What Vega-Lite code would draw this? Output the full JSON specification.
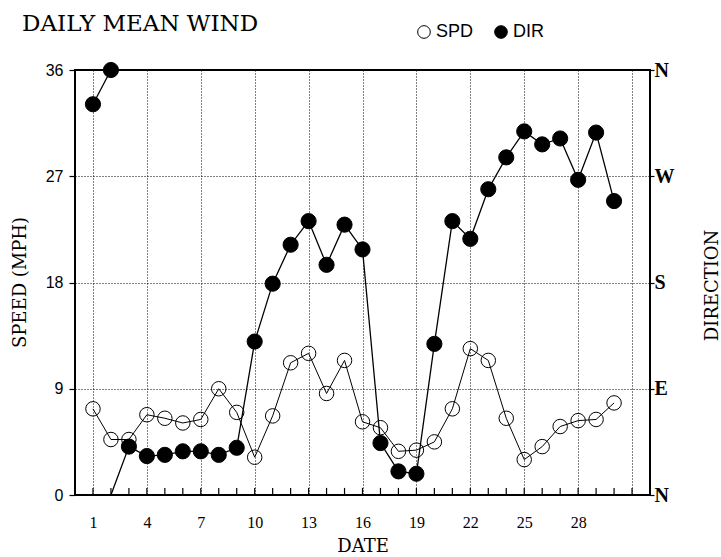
{
  "$schema": "https://vega.github.io/schema/vega-lite/v6.json",
  "width": 575,
  "height": 425,
  "autosize": "none",
  "padding": {"left": 75, "top": 70, "right": 71, "bottom": 62},
  "background": "white",
  "title": {
    "text": "DAILY MEAN WIND",
    "anchor": "start",
    "frame": "group",
    "dx": -53,
    "dy": 31,
    "offset": 0,
    "baseline": "alphabetic",
    "font": "DejaVu Serif",
    "fontSize": 23,
    "fontWeight": "normal",
    "color": "black"
  },
  "config": {
    "view": {"stroke": "black", "strokeWidth": 2},
    "axis": {"domain": false, "labelColor": "black", "titleColor": "black", "tickColor": "black", "gridColor": "black", "gridDash": [1, 2], "gridWidth": 1, "titleFontWeight": "normal"}
  },
  "data": {
    "values": [
      {"day": 1, "series": "SPD", "value": 7.3}, {"day": 2, "series": "SPD", "value": 4.7}, {"day": 3, "series": "SPD", "value": 4.7},
      {"day": 4, "series": "SPD", "value": 6.8}, {"day": 5, "series": "SPD", "value": 6.5}, {"day": 6, "series": "SPD", "value": 6.1},
      {"day": 7, "series": "SPD", "value": 6.4}, {"day": 8, "series": "SPD", "value": 9.0}, {"day": 9, "series": "SPD", "value": 7.0},
      {"day": 10, "series": "SPD", "value": 3.2}, {"day": 11, "series": "SPD", "value": 6.7}, {"day": 12, "series": "SPD", "value": 11.2},
      {"day": 13, "series": "SPD", "value": 12.0}, {"day": 14, "series": "SPD", "value": 8.6}, {"day": 15, "series": "SPD", "value": 11.4},
      {"day": 16, "series": "SPD", "value": 6.2}, {"day": 17, "series": "SPD", "value": 5.7}, {"day": 18, "series": "SPD", "value": 3.7},
      {"day": 19, "series": "SPD", "value": 3.8}, {"day": 20, "series": "SPD", "value": 4.5}, {"day": 21, "series": "SPD", "value": 7.3},
      {"day": 22, "series": "SPD", "value": 12.4}, {"day": 23, "series": "SPD", "value": 11.4}, {"day": 24, "series": "SPD", "value": 6.5},
      {"day": 25, "series": "SPD", "value": 3.0}, {"day": 26, "series": "SPD", "value": 4.1}, {"day": 27, "series": "SPD", "value": 5.8},
      {"day": 28, "series": "SPD", "value": 6.3}, {"day": 29, "series": "SPD", "value": 6.4}, {"day": 30, "series": "SPD", "value": 7.8},
      {"day": 1, "series": "DIR", "value": 331, "seg": 1}, {"day": 2, "series": "DIR", "value": 360, "seg": 1},
      {"day": 2, "series": "DIR", "value": 0, "seg": 2, "wrap": true},
      {"day": 3, "series": "DIR", "value": 41, "seg": 2}, {"day": 4, "series": "DIR", "value": 33, "seg": 2}, {"day": 5, "series": "DIR", "value": 34, "seg": 2},
      {"day": 6, "series": "DIR", "value": 37, "seg": 2}, {"day": 7, "series": "DIR", "value": 37, "seg": 2}, {"day": 8, "series": "DIR", "value": 34, "seg": 2},
      {"day": 9, "series": "DIR", "value": 40, "seg": 2}, {"day": 10, "series": "DIR", "value": 130, "seg": 2}, {"day": 11, "series": "DIR", "value": 179, "seg": 2},
      {"day": 12, "series": "DIR", "value": 212, "seg": 2}, {"day": 13, "series": "DIR", "value": 232, "seg": 2}, {"day": 14, "series": "DIR", "value": 195, "seg": 2},
      {"day": 15, "series": "DIR", "value": 229, "seg": 2}, {"day": 16, "series": "DIR", "value": 208, "seg": 2}, {"day": 17, "series": "DIR", "value": 44, "seg": 2},
      {"day": 18, "series": "DIR", "value": 20, "seg": 2}, {"day": 19, "series": "DIR", "value": 18, "seg": 2}, {"day": 20, "series": "DIR", "value": 128, "seg": 2},
      {"day": 21, "series": "DIR", "value": 232, "seg": 2}, {"day": 22, "series": "DIR", "value": 217, "seg": 2}, {"day": 23, "series": "DIR", "value": 259, "seg": 2},
      {"day": 24, "series": "DIR", "value": 286, "seg": 2}, {"day": 25, "series": "DIR", "value": 308, "seg": 2}, {"day": 26, "series": "DIR", "value": 297, "seg": 2},
      {"day": 27, "series": "DIR", "value": 302, "seg": 2}, {"day": 28, "series": "DIR", "value": 267, "seg": 2}, {"day": 29, "series": "DIR", "value": 307, "seg": 2},
      {"day": 30, "series": "DIR", "value": 249, "seg": 2}
    ]
  },
  "encoding": {
    "x": {
      "field": "day",
      "type": "quantitative",
      "scale": {"domain": [0, 32], "nice": false, "zero": false},
      "axis": {
        "values": [1,2,3,4,5,6,7,8,9,10,11,12,13,14,15,16,17,18,19,20,21,22,23,24,25,26,27,28,29,30,31],
        "labelExpr": "((datum.value - 1) % 3 === 0 && datum.value <= 28) ? datum.label : ''",
        "grid": true,
        "gridOpacity": {"condition": {"test": "(datum.value - 1) % 3 === 0", "value": 1}, "value": 0},
        "ticks": false,
        "labelPadding": 19,
        "labelFont": "Liberation Serif",
        "labelFontSize": 16,
        "labelFlush": false,
        "labelOverlap": false,
        "title": "DATE",
        "titleFont": "DejaVu Serif",
        "titleFontSize": 18,
        "titleY": 51,
        "titleBaseline": "middle"
      }
    }
  },
  "layer": [
    {
      "transform": [{"filter": "datum.series === 'SPD'"}],
      "encoding": {
        "y": {
          "field": "value",
          "type": "quantitative",
          "scale": {"domain": [0, 36], "nice": false},
          "axis": {
            "orient": "left",
            "values": [0, 9, 18, 27, 36],
            "grid": true,
            "ticks": true,
            "tickSize": 6,
            "tickWidth": 1.2,
            "labelPadding": 6,
            "labelFont": "Liberation Sans",
            "labelFontSize": 16,
            "labelFlush": false,
            "title": "SPEED (MPH)",
            "titleFont": "DejaVu Serif",
            "titleFontSize": 18,
            "titleX": -55,
            "titleY": 212,
            "titleAngle": 270,
            "titleBaseline": "middle"
          }
        }
      },
      "layer": [
        {"mark": {"type": "line", "color": "black", "strokeWidth": 1}},
        {
          "mark": {"type": "point", "shape": "circle", "size": 210, "stroke": "black", "strokeWidth": 1, "opacity": 1, "filled": false},
          "encoding": {
            "fill": {
              "field": "series",
              "type": "nominal",
              "scale": {"domain": ["SPD", "DIR"], "range": ["transparent", "black"]},
              "legend": {
                "orient": "none",
                "legendX": 340,
                "legendY": -47,
                "direction": "horizontal",
                "title": null,
                "symbolSize": 160,
                "symbolStrokeColor": "black",
                "symbolStrokeWidth": 1,
                "labelFont": "Liberation Sans",
                "labelFontSize": 18,
                "labelColor": "black",
                "labelOffset": 3,
                "columnPadding": 18,
                "encode": {
                  "symbols": {
                    "update": {
                      "shape": {"signal": "datum.value === 'SPD' ? 'M-1,0A1,1 0 1,1 1,0A1,1 0 1,1 -1,0ZM-1,0L1,0' : 'circle'"},
                      "stroke": {"value": "black"}
                    }
                  }
                }
              }
            }
          }
        }
      ]
    },
    {
      "transform": [{"filter": "datum.series === 'DIR'"}],
      "encoding": {
        "y": {
          "field": "value",
          "type": "quantitative",
          "scale": {"domain": [0, 360], "nice": false},
          "axis": {
            "orient": "right",
            "values": [0, 90, 180, 270, 360],
            "labelExpr": "datum.value === 90 ? 'E' : datum.value === 180 ? 'S' : datum.value === 270 ? 'W' : 'N'",
            "grid": false,
            "ticks": true,
            "tickSize": 4,
            "tickWidth": 1.2,
            "labelPadding": 0,
            "labelFont": "Liberation Serif",
            "labelFontSize": 20,
            "labelFontWeight": "bold",
            "labelFlush": false,
            "title": "DIRECTION",
            "titleFont": "DejaVu Serif",
            "titleFontSize": 18,
            "titleX": 62,
            "titleY": 215,
            "titleAngle": 270,
            "titleBaseline": "middle"
          }
        }
      },
      "layer": [
        {"mark": {"type": "line", "color": "black", "strokeWidth": 1.3}, "encoding": {"detail": {"field": "seg", "type": "nominal"}}},
        {
          "transform": [{"filter": "!datum.wrap"}],
          "mark": {"type": "point", "shape": "circle", "size": 230, "stroke": "black", "strokeWidth": 1, "opacity": 1, "filled": true},
          "encoding": {
            "fill": {"field": "series", "type": "nominal", "scale": {"domain": ["SPD", "DIR"], "range": ["transparent", "black"]}}
          }
        }
      ]
    },
    {
      "data": {
        "values": [
          {"day": 1}, {"day": 2}, {"day": 3}, {"day": 4}, {"day": 5}, {"day": 6}, {"day": 7}, {"day": 8},
          {"day": 9}, {"day": 10}, {"day": 11}, {"day": 12}, {"day": 13}, {"day": 14}, {"day": 15}, {"day": 16},
          {"day": 17}, {"day": 18}, {"day": 19}, {"day": 20}, {"day": 21}, {"day": 22}, {"day": 23}, {"day": 24},
          {"day": 25}, {"day": 26}, {"day": 27}, {"day": 28}, {"day": 29}, {"day": 30}, {"day": 31}
        ]
      },
      "mark": {"type": "rule", "color": "black", "strokeWidth": 1.2},
      "encoding": {
        "y": {"datum": 0, "type": "quantitative", "scale": {"domain": [0, 36], "nice": false}, "axis": null},
        "y2": {"datum": 0.6}
      }
    }
  ],
  "resolve": {"scale": {"y": "independent"}}
}
